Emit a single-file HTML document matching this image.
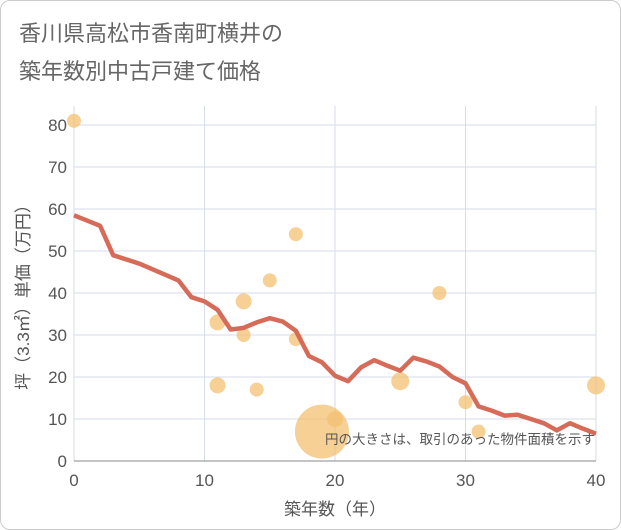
<!DOCTYPE html>
<html><head><meta charset="utf-8"><style>
body{margin:0;background:#fff;}
#card{position:absolute;left:0;top:0;width:619px;height:528px;border:1px solid #ccc;border-radius:10px;background:#fff;overflow:hidden;}
svg text{font-family:"Liberation Sans","Noto Sans CJK JP",sans-serif;}
</style></head><body>
<div id="card">
<svg width="621" height="530" id="chart">
<text x="18" y="40" font-size="22" fill="#666">香川県高松市香南町横井の</text>
<text x="18" y="78" font-size="22" fill="#666">築年数別中古戸建て価格</text>
<g id="grid"></g><g id="axes"></g><g id="marks"></g>
<text x="334" y="514" font-size="17" fill="#555" text-anchor="middle">築年数（年）</text>
<text transform="translate(28,292) rotate(-90)" font-size="17" fill="#555" text-anchor="middle">坪（3.3㎡）単価（万円）</text>
<text x="594" y="443" font-size="13.5" fill="#555" text-anchor="end">円の大きさは、取引のあった物件面積を示す</text>
</svg></div>
<script>
const xTicks=[0,10,20,30,40];
const yTicks=[0,10,20,30,40,50,60,70,80];
const lineYears=[0,2,3,5,8,9,10,11,12,13,14,15,16,17,18,19,20,21,22,23,24,25,26,27,28,29,30,31,32,33,34,35,36,37,38,39,40];
const linePrices=[58.5,56,49,47,43,39,38,36,31.3,31.7,33,34,33.2,31,25,23.5,20.3,19,22.3,24,22.7,21.5,24.6,23.7,22.5,20,18.5,13,12,10.8,11,10,9,7.3,9,7.7,6.5];
const dotYears=[0,11,11,13,13,14,15,17,17,19,20,25,28,30,31,40];
const dotPrices=[81,33,18,38,30,17,43,54,29,7,10,19,40,14,7,18];
const dotSizes=[7,8,8,8,7,7,7,7,7,27,8,9,7,7,7,9];
const X=v=>73+v*13.05, Y=v=>460-v*4.2;
const ns="http://www.w3.org/2000/svg";
const mk=(t,a,p)=>{const e=document.createElementNS(ns,t);for(const k in a)e.setAttribute(k,a[k]);p.appendChild(e);return e;};
const grid=document.getElementById('grid'),axes=document.getElementById('axes'),marks=document.getElementById('marks');
xTicks.forEach(t=>{
 const l=mk('line',{x1:X(t),x2:X(t),y1:105,y2:460,stroke:'#d5dee8','stroke-width':1},grid);
 
 
 const tx=mk('text',{x:X(t),y:485,'font-size':17,fill:'#555','text-anchor':'middle'},axes);tx.textContent=t;
 
 
});
yTicks.forEach(t=>{
 const l=mk('line',{x1:73,x2:595,y1:Y(t),y2:Y(t),stroke:'#d5dee8','stroke-width':1},grid);
 
 
 const tx=mk('text',{x:66,y:Y(t)+6,'font-size':17,fill:'#555','text-anchor':'end'},axes);tx.textContent=t;
 
 
});
const ax=mk('line',{x1:73,x2:595,y1:460,y2:460,stroke:'#888','stroke-width':1},axes);


dotYears.forEach((v,i)=>{
 const c=mk('circle',{cx:X(v),cy:Y(dotPrices[i]),r:dotSizes[i],fill:'#f3c072','fill-opacity':0.75},marks);
 
 
});
const p=mk('polyline',{points:lineYears.map((v,i)=>X(v)+','+Y(linePrices[i])).join(' '),fill:'none',stroke:'#d66b59','stroke-width':4.5,'stroke-linejoin':'round'},marks);


</script>
</body></html>
